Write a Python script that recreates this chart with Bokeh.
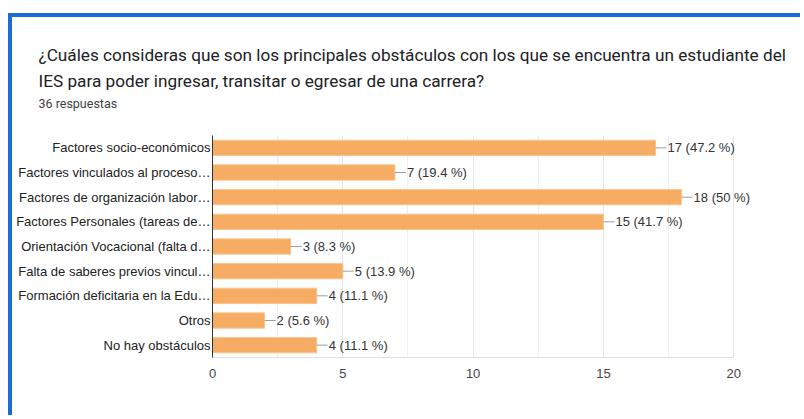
from bokeh.plotting import figure
from bokeh.models import FactorRange, Range1d, FixedTicker, Title, ColumnDataSource
from bokeh.embed import file_html
from bokeh.resources import INLINE
from bokeh.core.properties import value

categories = [
    "Factores socio-económicos",
    "Factores vinculados al proceso…",
    "Factores de organización labor…",
    "Factores Personales (tareas de…",
    "Orientación Vocacional (falta d…",
    "Falta de saberes previos vincul…",
    "Formación deficitaria en la Edu…",
    "Otros",
    "No hay obstáculos",
]
counts = [17, 7, 18, 15, 3, 5, 4, 2, 4]
percents = ["47.2", "19.4", "50", "41.7", "8.3", "13.9", "11.1", "5.6", "11.1"]
x_ticks = [0, 5, 10, 15, 20]
x_minor = [2.5, 7.5, 12.5, 17.5]
title_lines = [
    "¿Cuáles consideras que son los principales obstáculos con los que se encuentra un estudiante del",
    "IES para poder ingresar, transitar o egresar de una carrera?",
]
subtitle = "36 respuestas"

W, H = 792, 402
labels = [f"{c} ({p} %)" for c, p in zip(counts, percents)]
lead_end = [c + 0.42 for c in counts]
src = ColumnDataSource(dict(cat=categories, n=counts, lab=labels, lead=lead_end))

p = figure(width=W, height=H, output_backend="svg", toolbar_location=None,
           y_range=FactorRange(factors=list(reversed(categories))),
           x_range=Range1d(0, 22.6),
           min_border_left=200, min_border_right=3, min_border_top=118,
           min_border_bottom=62)
p.margin = (13, 0, 0, 8)
p.styles = {"border-top": "4px solid #1a6dd6", "border-left": "4px solid #1a6dd6"}
p.outline_line_color = None
p.background_fill_color = "white"
p.border_fill_color = "white"

p.hbar(y="cat", right="n", left=0, height=0.62, source=src,
       fill_color="#F6AC62", line_color="#F9C690", line_width=1)
p.segment(x0="n", x1="lead", y0="cat", y1="cat", source=src,
          line_color="#9e9e9e", line_width=1)
p.text(x="n", y="cat", text="lab", source=src, x_offset=12,
       text_baseline="middle", text_align="left", text_font_size="13px",
       text_font=value("Liberation Sans"), text_color="#333333")

# axes
p.xaxis.ticker = FixedTicker(ticks=x_ticks, minor_ticks=x_minor)
p.xaxis.bounds = (0, 20)
p.xaxis.axis_line_color = "#e0e0e0"
p.xaxis.major_tick_line_color = None
p.xaxis.minor_tick_line_color = None
p.xaxis.major_tick_out = 0
p.xaxis.major_tick_in = 0
p.xaxis.minor_tick_out = 0
p.xaxis.major_label_standoff = 11
p.xaxis.major_label_text_font = "Liberation Sans"
p.xaxis.major_label_text_font_size = "13px"
p.xaxis.major_label_text_color = "#444444"

p.yaxis.axis_line_color = "#333333"
p.yaxis.major_tick_line_color = None
p.yaxis.minor_tick_line_color = None
p.yaxis.major_tick_out = 0
p.yaxis.major_tick_in = 0
p.yaxis.minor_tick_out = 0
p.yaxis.major_label_standoff = 2
p.yaxis.major_label_text_font = "Liberation Sans"
p.yaxis.major_label_text_font_size = "13px"
p.yaxis.major_label_text_color = "#222222"

p.xgrid.bounds = (0, 20)
p.xgrid.grid_line_color = "#e6e6e6"
p.xgrid.minor_grid_line_color = "#f0f0f0"
p.ygrid.grid_line_color = None

# header panels (nearest the frame added first); first one is a blank gap
p.title.visible = False
p.add_layout(Title(text=" ", align="left", standoff=15, text_font_size="4px"), "above")
p.add_layout(Title(text=subtitle, align="left", offset=-174, standoff=6,
                   text_font="Roboto", text_font_size="12.5px",
                   text_font_style="normal", text_color="#3c4043"), "above")
p.add_layout(Title(text=title_lines[1], align="left", offset=-174, standoff=0,
                   text_font="Roboto", text_font_size="17.2px",
                   text_font_style="normal", text_color="#202124"), "above")
p.add_layout(Title(text=title_lines[0], align="left", offset=-174, standoff=8,
                   text_font="Roboto", text_font_size="17.2px",
                   text_font_style="normal", text_color="#202124"), "above")

open("out.html", "w").write(file_html(p, INLINE))
